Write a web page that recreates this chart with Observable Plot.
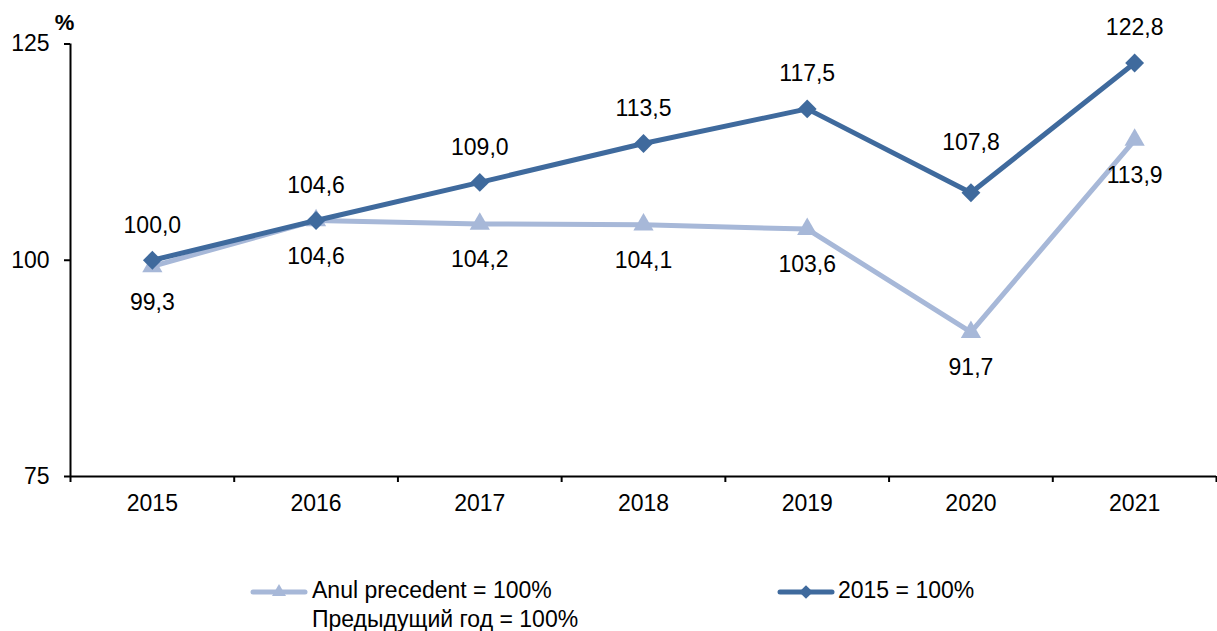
<!DOCTYPE html>
<html>
<head>
<meta charset="utf-8">
<script src="https://cdn.jsdelivr.net/npm/d3@7"></script>
<script src="https://cdn.jsdelivr.net/npm/@observablehq/plot@0.6"></script>
<style>
  body { margin: 0; background: #fff; font-family: "Liberation Sans", Arial, sans-serif; }
  #wrap { position: relative; width: 1217px; height: 631px; overflow: hidden; }
  #chart { position: absolute; left: 0; top: 0; }
  .leg-text { position: absolute; font-size: 23px; line-height: 29px; color: #000; white-space: nowrap; }
  .leg-sw { position: absolute; }
</style>
</head>
<body>
<div id="wrap"><div id="chart"></div><div id="legend"></div></div>
<script>
// ---- data ----
const years = [2015, 2016, 2017, 2018, 2019, 2020, 2021];
const prevYear = [99.3, 104.6, 104.2, 104.1, 103.6, 91.7, 113.9];
const base2015 = [100.0, 104.6, 109.0, 113.5, 117.5, 107.8, 122.8];
const yTicks = [75, 100, 125];
const yDomain = [75, 125];
const prevName = ["Anul precedent = 100%", "Предыдущий год = 100%"];
const baseName = "2015 = 100%";
const unitLabel = "%";

// ---- styles ----
const light = "#A7B8D8";
const dark = "#3F6A9D";

const prevData = years.map((year, i) => ({ year, value: prevYear[i] }));
const baseData = years.map((year, i) => ({ year, value: base2015[i] }));
const bounds = [...years.map(y => y - 0.5), years[years.length - 1] + 0.5];
const fmt = v => d3.format(".1f")(v).replace(".", ",");

const chart = Plot.plot({
  width: 1217,
  height: 530,
  marginLeft: 70,
  marginRight: 1,
  marginTop: 43.5,
  marginBottom: 54,
  style: { fontFamily: "Liberation Sans, Arial, sans-serif", fontSize: "23px", color: "#000", background: "#fff", overflow: "visible" },
  x: { domain: [bounds[0], bounds[bounds.length - 1]] },
  y: { domain: yDomain },
  marks: [
    Plot.axisY({ ticks: yTicks, tickSize: 6, tickPadding: 15, strokeWidth: 2, label: null, tickFormat: d => String(d) }),
    Plot.axisX({ ticks: years, tickSize: 0, tickPadding: 18, label: null, tickFormat: d => String(d) }),
    Plot.axisX({ ticks: bounds, tickSize: 6, strokeWidth: 2, label: null, tickFormat: () => "" }),
    Plot.ruleX([bounds[0]], { stroke: "#000", strokeWidth: 2 }),
    Plot.ruleY([yDomain[0]], { stroke: "#000", strokeWidth: 2 }),
    Plot.line(prevData, { x: "year", y: "value", stroke: light, strokeWidth: 5 }),
    Plot.dot(prevData, { x: "year", y: "value", symbol: "triangle", r: 7.5, fill: light }),
    Plot.line(baseData, { x: "year", y: "value", stroke: dark, strokeWidth: 5 }),
    Plot.dot(baseData, { x: "year", y: "value", symbol: "diamond2", r: 8.5, fill: dark }),
    Plot.text(prevData, { x: "year", y: "value", text: d => fmt(d.value), dy: 36 }),
    Plot.text(baseData.filter(d => d.year !== 2020), { x: "year", y: "value", text: d => fmt(d.value), dy: -35 }),
    Plot.text(baseData.filter(d => d.year === 2020), { x: "year", y: "value", text: d => fmt(d.value), dy: -50 }),
    Plot.text([unitLabel], { text: d => d, frameAnchor: "top-left", dx: -6, dy: -21.5, textAnchor: "middle", lineAnchor: "middle", fontWeight: "bold", fontSize: 22 })
  ]
});
document.getElementById("chart").appendChild(chart);

// ---- legend ----
const legend = document.getElementById("legend");
function swatch(left, color, symbolType, size) {
  const ns = "http://www.w3.org/2000/svg";
  const svg = document.createElementNS(ns, "svg");
  svg.setAttribute("class", "leg-sw");
  svg.setAttribute("width", 60);
  svg.setAttribute("height", 28);
  svg.style.left = left + "px";
  svg.style.top = "578px";
  const line = document.createElementNS(ns, "line");
  line.setAttribute("x1", 3); line.setAttribute("x2", 55);
  line.setAttribute("y1", 14); line.setAttribute("y2", 14);
  line.setAttribute("stroke", color); line.setAttribute("stroke-width", 5);
  line.setAttribute("stroke-linecap", "round");
  svg.appendChild(line);
  const p = document.createElementNS(ns, "path");
  p.setAttribute("d", d3.symbol(symbolType, size)());
  p.setAttribute("transform", "translate(29,14)");
  p.setAttribute("fill", color);
  svg.appendChild(p);
  legend.appendChild(svg);
}
function label(left, lines) {
  const div = document.createElement("div");
  div.className = "leg-text";
  div.style.left = left + "px";
  div.style.top = "576px";
  div.innerHTML = lines.map(s => s.replace(/&/g, "&amp;").replace(/</g, "&lt;")).join("<br>");
  legend.appendChild(div);
}
swatch(250, light, d3.symbolTriangle, 85);
label(312, prevName);
swatch(777, dark, d3.symbolDiamond2, 120);
label(838, [baseName]);
</script>
</body>
</html>
